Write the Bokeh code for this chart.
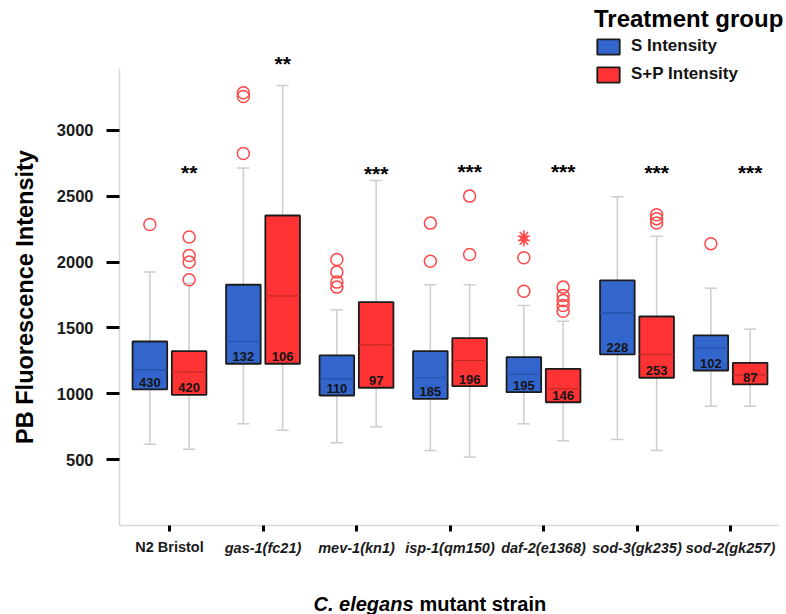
from bokeh.plotting import figure
from bokeh.models import (ColumnDataSource, FixedTicker, Legend, LegendItem,
                          Label, LabelSet, Range1d)
from bokeh.embed import file_html
from bokeh.resources import INLINE
from bokeh.core.properties import value

# ---------------- data ----------------
strains = ["N2 Bristol", "gas-1(fc21)", "mev-1(kn1)", "isp-1(qm150)",
           "daf-2(e1368)", "sod-3(gk235)", "sod-2(gk257)"]

# S Intensity (blue)
s_low = [617, 772, 628, 569, 772, 653, 906]
s_q1 = [1033, 1228, 987, 962, 1012, 1299, 1177]
s_med = [1182, 1397, 1114, 1122, 1147, 1615, 1349]
s_q3 = [1397, 1828, 1291, 1324, 1278, 1861, 1443]
s_high = [1924, 2714, 1638, 1828, 1671, 2496, 1802]
s_n = [430, 132, 110, 185, 195, 228, 102]
s_out_group = [0, 1, 1, 1, 2, 2, 2, 2, 3, 3, 4, 4, 6]
s_out_val = [2286, 3286, 3258, 2825, 2020, 1924, 1848, 1810, 2296, 2007,
             2033, 1779, 2140]
s_ext_group = [4, 4]
s_ext_val = [2197, 2164]

# S+P Intensity (red)
p_low = [579, 724, 749, 519, 643, 570, 906]
p_q1 = [992, 1228, 1046, 1058, 936, 1122, 1071]
p_med = [1167, 1744, 1372, 1253, 1038, 1299, 1144]
p_q3 = [1324, 2354, 1696, 1422, 1190, 1587, 1235]
p_high = [1840, 3340, 2620, 1828, 1551, 2197, 1491]
p_n = [420, 106, 97, 196, 146, 253, 87]
p_out_group = [0, 0, 0, 0, 3, 3, 4, 4, 4, 4, 4, 5, 5, 5]
p_out_val = [2190, 2050, 2000, 1866, 2501, 2058, 1810, 1747, 1709, 1671,
             1627, 2360, 2330, 2297]

# significance markers
sig_text = ["**", "**", "***", "***", "***", "***", "***"]
sig_y = [2680, 3505, 2675, 2685, 2685, 2680, 2680]

y_ticks = [500, 1000, 1500, 2000, 2500, 3000]
Y_AXIS_MAX = 3470

# ---------------- layout (pixels) ----------------
W, H = 786, 614
FL, FR, FT, FB = 119, 778, 68, 525      # axis box in the picture
GX0, PPX = 169, 93.5                     # first group centre, px per group
PPU_Y = (FB - FT) / Y_AXIS_MAX           # px per intensity unit
OFF, BW, CAP = 0.21, 0.37, 0.13
FONT = "Liberation Sans"

BLUE, RED = "#3366CC", "#FF3333"
BLUE_MED, RED_MED = "#2850a8", "#c42828"
WHISK = "#cdcdcd"
OUTC = "#ff4848"


def x_of_px(px):
    return (px - GX0) / PPX


def y_of_px(py):
    return (FB - py) / PPU_Y


p = figure(width=W, height=H,
           x_range=Range1d(x_of_px(0), x_of_px(W)),
           y_range=Range1d(y_of_px(H), y_of_px(0)),
           output_backend="svg", toolbar_location=None,
           min_border=0, min_border_left=0, min_border_right=0,
           min_border_top=0, min_border_bottom=0)
p.outline_line_color = None
p.xgrid.visible = False
p.ygrid.visible = False
p.background_fill_color = "white"
p.border_fill_color = "white"

idx = list(range(len(strains)))


def draw_series(sign, low, q1, med, q3, high, n, fill, medc):
    xs = [i + sign * OFF for i in idx]
    src = ColumnDataSource(dict(
        x=xs, low=low, q1=q1, med=med, q3=q3, high=high,
        xl=[x - BW / 2 for x in xs], xr=[x + BW / 2 for x in xs],
        cl=[x - CAP / 2 for x in xs], cr=[x + CAP / 2 for x in xs],
        ny=[v + 7 / PPU_Y for v in q1],
        n=[str(v) for v in n]))
    p.segment(x0="x", y0="q3", x1="x", y1="high", source=src,
              line_color=WHISK, line_width=1.5)
    p.segment(x0="x", y0="q1", x1="x", y1="low", source=src,
              line_color=WHISK, line_width=1.5)
    p.segment(x0="cl", y0="high", x1="cr", y1="high", source=src,
              line_color=WHISK, line_width=1.5)
    p.segment(x0="cl", y0="low", x1="cr", y1="low", source=src,
              line_color=WHISK, line_width=1.5)
    r = p.vbar(x="x", width=BW, bottom="q1", top="q3", source=src,
               fill_color=fill, line_color="#1c1c1c", line_width=1.8)
    p.segment(x0="xl", y0="med", x1="xr", y1="med", source=src,
              line_color=medc, line_width=1.2)
    p.text(x="x", y="ny", text="n", source=src, text_align="center",
           text_baseline="alphabetic",
           text_font=value(FONT), text_font_size="13px",
           text_font_style="bold", text_color="#141414")
    return r


rb = draw_series(-1, s_low, s_q1, s_med, s_q3, s_high, s_n, BLUE, BLUE_MED)
rr = draw_series(+1, p_low, p_q1, p_med, p_q3, p_high, p_n, RED, RED_MED)

# outliers
p.scatter(x=[g - OFF for g in s_out_group], y=s_out_val, marker="circle",
          size=12, fill_alpha=0, line_color=OUTC, line_width=1.5)
p.scatter(x=[g + OFF for g in p_out_group], y=p_out_val, marker="circle",
          size=12, fill_alpha=0, line_color=OUTC, line_width=1.5)
p.scatter(x=[g - OFF for g in s_ext_group], y=s_ext_val, marker="asterisk",
          size=12, line_color=OUTC, line_width=1.5)

# significance stars
sig_src = ColumnDataSource(dict(x=[i + OFF for i in idx], y=sig_y, t=sig_text))
p.add_layout(LabelSet(x="x", y="y", text="t", source=sig_src,
                      text_align="center", text_baseline="middle",
                      text_font=value(FONT), text_font_size="21px",
                      text_font_style="bold", text_color="black"))

# axes (fixed at the axis box edges)
p.yaxis.fixed_location = x_of_px(FL)
p.yaxis.bounds = (0, Y_AXIS_MAX)
p.yaxis.ticker = FixedTicker(ticks=y_ticks)
p.yaxis.axis_line_color = "#d8d8d8"
p.yaxis.axis_line_width = 1.5
p.yaxis.major_tick_line_color = "black"
p.yaxis.major_tick_line_width = 3
p.yaxis.major_tick_out = 13
p.yaxis.major_tick_in = 0
p.yaxis.minor_tick_line_color = None
p.yaxis.major_label_text_font = FONT
p.yaxis.major_label_text_font_size = "16.5px"
p.yaxis.major_label_text_font_style = "bold"
p.yaxis.major_label_text_color = "#1a1a1a"
p.yaxis.major_label_standoff = 13
p.yaxis.axis_label = "PB Fluorescence Intensity"
p.yaxis.axis_label_text_font = FONT
p.yaxis.axis_label_text_font_size = "23.5px"
p.yaxis.axis_label_text_font_style = "bold"
p.yaxis.axis_label_text_color = "black"
p.yaxis.axis_label_standoff = 16

p.xaxis.fixed_location = 0
p.xaxis.bounds = (x_of_px(FL), x_of_px(FR))
p.xaxis.ticker = FixedTicker(ticks=idx)
p.xaxis.major_label_overrides = {i: (s if i > 0 else "") for i, s in enumerate(strains)}
p.xaxis.axis_line_color = "#d8d8d8"
p.xaxis.axis_line_width = 1.5
p.xaxis.major_tick_line_color = "black"
p.xaxis.major_tick_line_width = 3
p.xaxis.major_tick_out = 6
p.xaxis.major_tick_in = 0
p.xaxis.minor_tick_line_color = None
p.xaxis.major_label_text_font = FONT
p.xaxis.major_label_text_font_size = "14.5px"
p.xaxis.major_label_text_font_style = "bold italic"
p.xaxis.major_label_text_color = "#1a1a1a"
p.xaxis.major_label_standoff = 8

# first strain label is upright (not italic)
p.add_layout(Label(x=0, y=y_of_px(546), text=strains[0], text_align="center",
                   text_baseline="alphabetic", text_font=FONT,
                   text_font_size="14.5px", text_font_style="bold",
                   text_color="#1a1a1a"))

# x-axis title: "C. elegans" italic + "mutant strain"
p.add_layout(Label(x=x_of_px(413), y=y_of_px(603), text="C. elegans",
                   text_align="right", text_baseline="alphabetic",
                   text_font=FONT, text_font_size="20px",
                   text_font_style="bold italic", text_color="black"))
p.add_layout(Label(x=x_of_px(419), y=y_of_px(603), text="mutant strain",
                   text_align="left", text_baseline="alphabetic",
                   text_font=FONT, text_font_size="20px",
                   text_font_style="bold", text_color="black"))

# legend
legend = Legend(items=[LegendItem(label="S Intensity", renderers=[rb]),
                       LegendItem(label="S+P Intensity", renderers=[rr])],
                title="Treatment group", location=(594, H - 84),
                title_text_font=FONT, title_text_font_size="24px",
                title_text_font_style="bold", title_text_color="black",
                title_standoff=3,
                label_text_font=FONT, label_text_font_size="17px",
                label_text_font_style="bold", label_text_color="#141414",
                glyph_width=28, glyph_height=19, label_height=19,
                label_standoff=9, spacing=8, padding=0, margin=0,
                border_line_alpha=0, background_fill_alpha=0)
p.add_layout(legend)

open("out.html", "w").write(file_html(p, INLINE))
